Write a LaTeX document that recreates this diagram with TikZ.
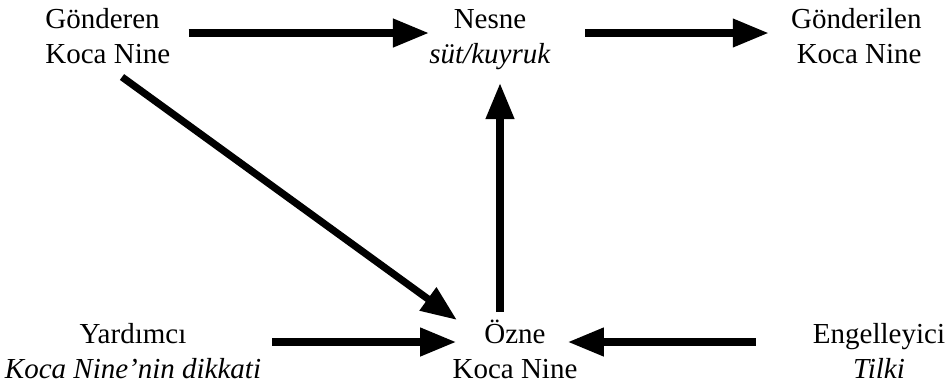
\documentclass[tikz,border=0pt]{standalone}
\usepackage{fontspec}
\setmainfont{Liberation Serif}
\usepackage{tikz}
\usetikzlibrary{arrows.meta,positioning}
\tikzset{
    actant/.style={inner sep=0pt, font=\fontsize{14.5}{17.5}\selectfont},
    arr/.style={line width=3.6pt, -{Triangle[length=18pt,width=13.5pt]}}}

\begin{document}
\begin{tikzpicture}[x=0.5pt,y=-0.5pt]
\useasboundingbox (0,0) rectangle (952,387);

% base = baseline of the second line
\node[actant, align=left, anchor=base west] (sender) at (45,63) {G\"onderen\\Koca Nine};
\node[actant, align=center, anchor=base] (object) at (490,63) {Nesne\\\textit{s\"ut/kuyruk}};
\node[actant, align=right, anchor=base east] (receiver) at (922,63) {G\"onderilen\\Koca Nine};
\node[actant, align=center, anchor=base] (helper) at (133,378) {Yard\i mc\i\\\textit{Koca Nine'nin dikkati}};
\node[actant, align=center, anchor=base] (subject) at (515,378) {\"Ozne\\Koca Nine};
\node[actant, align=center, anchor=base] (opponent) at (879,378) {Engelleyici\\\textit{Tilki}};

%top row
\draw[arr, shorten <=9pt] ([yshift=15pt]sender.base east) -- ([yshift=15pt]object.base west);
\draw[arr, shorten <=17pt, shorten >=11pt] ([yshift=15pt]object.base east) -- ([yshift=15pt]receiver.base west);
%bottom row
\draw[arr, shorten <=5.5pt, shorten >=-2pt] ([yshift=18pt]helper.base east) -- ([yshift=18pt]subject.base west);
\draw[arr, shorten <=28.5pt, shorten >=-5pt] ([yshift=18pt]opponent.base west) -- ([yshift=18pt]subject.base east);
%subject
\draw[arr] ([shift={(-7.5pt,33pt)}]subject.base) -- ([shift={(5pt,-10pt)}]object.base);
\draw[arr] ([shift={(38.5pt,-7pt)}]sender.base west) -- ([shift={(-29pt,29pt)}]subject.base);
\end{tikzpicture}
\end{document}
